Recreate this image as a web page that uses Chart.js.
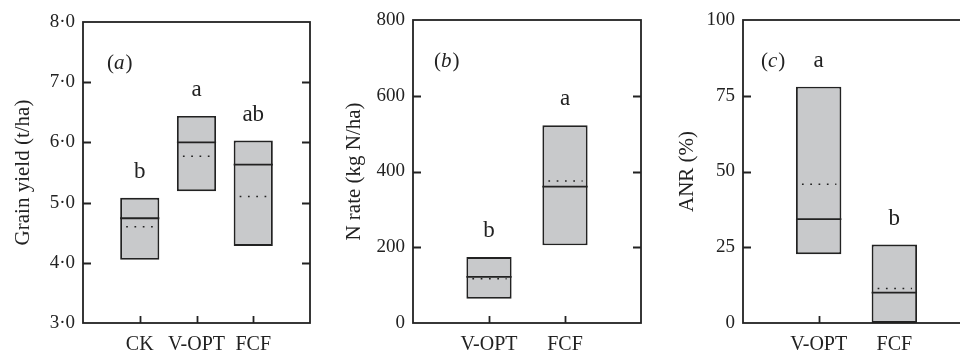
<!DOCTYPE html>
<html>
<head>
<meta charset="utf-8">
<script src="https://cdn.jsdelivr.net/npm/chart.js@4"></script>
<style>
  html, body { margin: 0; padding: 0; background: #fff; overflow: hidden; }
  #wrap { position: relative; width: 960px; height: 354px; overflow: hidden; }
  canvas { position: absolute; top: 0; }
</style>
</head>
<body>
<div id="wrap">
  <canvas id="chartA" width="340" height="354" style="left:0px"></canvas>
  <canvas id="chartB" width="340" height="354" style="left:320px"></canvas>
  <canvas id="chartC" width="340" height="354" style="left:640px"></canvas>
</div>
<script>
// (a) grain yield, t/ha
const yieldCats = ['CK', 'V-OPT', 'FCF'];
const yieldLow = [4.05, 5.19, 4.28];
const yieldHigh = [5.08, 6.44, 6.03];
const yieldMedian = [4.74, 6.0, 5.63];
const yieldMean = [4.6, 5.77, 5.1];
const yieldLetters = ['b', 'a', 'ab'];
const yieldTicks = [3, 8, 1];

// (b) N rate, kg N/ha
const nRateCats = ['V-OPT', 'FCF'];
const nRateLow = [64, 205];
const nRateHigh = [174, 522];
const nRateMedian = [122, 360];
const nRateMean = [117, 375];
const nRateLetters = ['b', 'a'];
const nRateTicks = [0, 800, 200];

// (c) ANR, %
const anrCats = ['V-OPT', 'FCF'];
const anrLow = [22.7, 0];
const anrHigh = [78, 25.9];
const anrMedian = [34.3, 10];
const anrMean = [45.8, 11.4];
const anrLetters = ['a', 'b'];
const anrTicks = [0, 100, 25];

const FONT = '"Liberation Serif", "DejaVu Serif", serif';
const INK = '#222';

const boxExtras = {
  id: 'boxExtras',
  beforeDatasetsDraw(chart, args, o) {
    const { ctx, chartArea: a, scales } = chart;
    ctx.save();
    ctx.strokeStyle = INK;
    ctx.lineWidth = 1.8;
    // inward ticks on left and right
    const yt = scales.y.ticks;
    for (let i = 1; i < yt.length - 1; i++) {
      const py = Math.round(scales.y.getPixelForValue(yt[i].value)) + 0.5;
      ctx.beginPath();
      ctx.moveTo(a.left, py); ctx.lineTo(a.left + 8, py);
      ctx.moveTo(a.right, py); ctx.lineTo(a.right - 8, py);
      ctx.stroke();
    }
    // inward ticks on the bottom, only at categories
    chart.data.labels.forEach((lab, i) => {
      if (!lab) return;
      const px = Math.round(scales.x.getPixelForValue(i)) + 0.5;
      ctx.beginPath();
      ctx.moveTo(px, a.bottom); ctx.lineTo(px, a.bottom - 7);
      ctx.stroke();
    });
    ctx.restore();
  },
  afterDatasetsDraw(chart, args, o) {
    const { ctx, chartArea: a, scales } = chart;
    const meta = chart.getDatasetMeta(0);
    ctx.save();
    ctx.strokeStyle = INK;
    ctx.fillStyle = INK;
    ctx.font = '23px ' + FONT;
    ctx.textAlign = 'center';
    ctx.textBaseline = 'middle';
    o.median.forEach((m, k) => {
      const bar = meta.data[k + 1];
      const half = bar.width / 2;
      const py = scales.y.getPixelForValue(m);
      ctx.lineWidth = 1.8;
      ctx.setLineDash([]);
      ctx.beginPath();
      ctx.moveTo(bar.x - half, py); ctx.lineTo(bar.x + half, py);
      ctx.stroke();
      const pm = scales.y.getPixelForValue(o.mean[k]);
      ctx.lineWidth = 1.5;
      ctx.setLineDash([1.7, 6.6]);
      ctx.beginPath();
      ctx.moveTo(bar.x - half + 6, pm); ctx.lineTo(bar.x + half - 5, pm);
      ctx.stroke();
      ctx.setLineDash([]);
      const top = scales.y.getPixelForValue(o.high[k]);
      ctx.fillText(o.letters[k], bar.x, top - 26);
    });
    // frame
    ctx.lineWidth = 1.8;
    ctx.strokeRect(a.left, a.top, a.right - a.left, a.bottom - a.top);
    // panel label "(x)" with italic letter
    ctx.textAlign = 'left';
    let x = a.left + o.panelDx;
    const y = a.top + 41;
    ctx.font = '21px ' + FONT;
    ctx.fillText('(', x, y); x += ctx.measureText('(').width;
    ctx.font = 'italic 21px ' + FONT;
    ctx.fillText(o.panel, x, y); x += ctx.measureText(o.panel).width + 1;
    ctx.font = '21px ' + FONT;
    ctx.fillText(')', x, y);
    ctx.restore();
  }
};

function makeChart(id, cats, low, high, median, mean, letters, ticks, opt) {
  const labels = [''].concat(cats, ['']);
  const boxes = [null].concat(low.map((v, i) => [v, high[i]]), [null]);
  return new Chart(document.getElementById(id), {
    type: 'bar',
    data: {
      labels: labels,
      datasets: [{
        data: boxes,
        backgroundColor: '#c8c9cb',
        borderColor: INK,
        borderWidth: 1.9,
        borderSkipped: false,
        categoryPercentage: 1,
        barPercentage: opt.barPct
      }]
    },
    options: {
      responsive: false,
      animation: false,
      events: [],
      layout: { padding: { left: 0, right: opt.padRight, top: opt.padTop, bottom: 0 } },
      plugins: {
        legend: { display: false },
        tooltip: { enabled: false },
        boxExtras: {
          median: median, mean: mean, letters: letters, high: high,
          panel: opt.panel, panelDx: opt.panelDx
        }
      },
      scales: {
        x: {
          offset: false,
          grid: { display: false, drawTicks: false },
          border: { display: false },
          ticks: {
            autoSkip: false, maxRotation: 0, padding: 10,
            color: INK, font: { family: FONT, size: 20 }
          },
          afterFit: s => { s.height = 31; }
        },
        y: {
          min: ticks[0], max: ticks[1],
          grid: { display: false, drawTicks: false },
          border: { display: false },
          ticks: {
            stepSize: ticks[2], padding: 8, color: INK,
            font: { family: FONT, size: 19 },
            callback: opt.fmt
          },
          title: {
            display: true, text: opt.title, color: INK,
            font: { family: FONT, size: 21 },
            padding: { top: opt.titlePad, bottom: 0 }
          },
          afterFit: s => { s.width = opt.yWidth; }
        }
      }
    },
    plugins: [boxExtras]
  });
}

makeChart('chartA', yieldCats, yieldLow, yieldHigh, yieldMedian, yieldMean, yieldLetters, yieldTicks, {
  barPct: 0.69, padRight: 30, padTop: 22, yWidth: 83, title: 'Grain yield (t/ha)', titlePad: 11,
  panel: 'a', panelDx: 24, fmt: v => v.toFixed(1).replace('.', '·')
});
makeChart('chartB', nRateCats, nRateLow, nRateHigh, nRateMedian, nRateMean, nRateLetters, nRateTicks, {
  barPct: 0.595, padRight: 19, padTop: 20, yWidth: 93, title: 'N rate (kg N/ha)', titlePad: 22,
  panel: 'b', panelDx: 21, fmt: v => String(v)
});
makeChart('chartC', anrCats, anrLow, anrHigh, anrMedian, anrMean, anrLetters, anrTicks, {
  barPct: 0.6, padRight: 10, padTop: 20, yWidth: 103, title: 'ANR (%)', titlePad: 35,
  panel: 'c', panelDx: 18, fmt: v => String(v)
});
</script>
</body>
</html>
